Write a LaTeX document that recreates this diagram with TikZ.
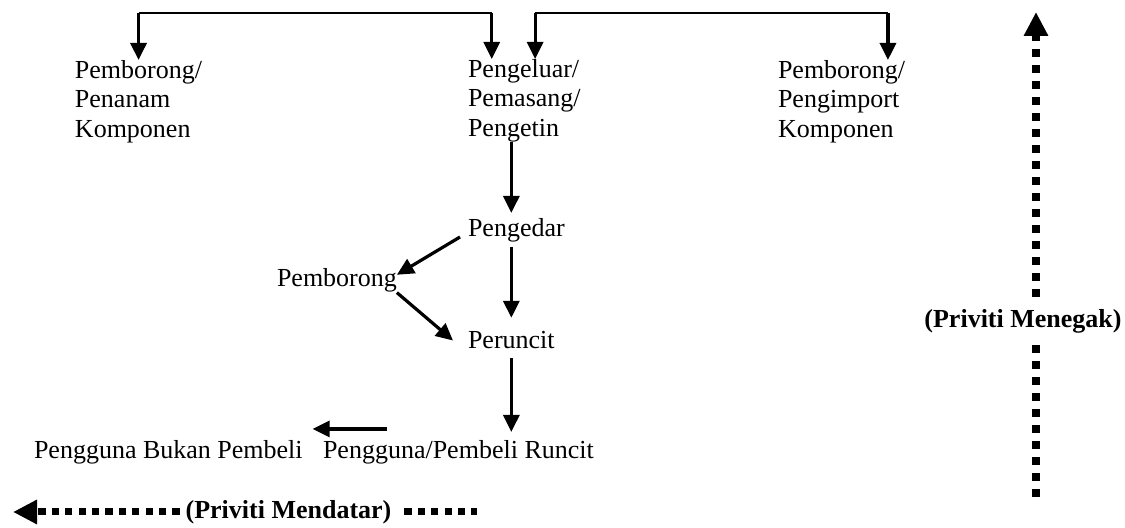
\documentclass[tikz,border=0pt]{standalone}
\usepackage{fontspec}
\setmainfont{Liberation Serif}
\usetikzlibrary{arrows.meta}

\begin{document}
\begin{tikzpicture}[x=0.5pt,
y=-0.5pt,
every node/.style={
align=left,
inner sep=0pt,
outer sep=0pt,
font=\fontsize{13}{14.75}\selectfont,
},
conn/.style={
line width=1.6pt,
-{Triangle[length=8.5pt,width=8pt]},
},
rail/.style={
line width=0.8pt,
},
priv/.style={
line width=3.5pt,
dash pattern=on 3.6pt off 3.1pt,
},
privtip/.style={
-{Triangle[length=12pt,width=11.5pt]},
},
lbl/.style={
font=\fontsize{13}{14.75}\selectfont\bfseries,
}]

\useasboundingbox (0,0) rectangle (1125,528);

%top row
\node[anchor=north west] (penanam) at (75,60) {Pemborong/\\Penanam\\Komponen};
\node[anchor=north west] (pengeluar) at (468,59) {Pengeluar/\\Pemasang/\\Pengetin};
\node[anchor=north west] (pengimport) at (778,60) {Pemborong/\\Pengimport\\Komponen};

%middle column
\node[anchor=base west] (pengedar) at (468,237) {Pengedar};
\node[anchor=base west] (pemborong) at (277,287) {Pemborong};
\node[anchor=base west] (peruncit) at (468,349) {Peruncit};
\node[anchor=base west] (bukan) at (34,459) {Pengguna Bukan Pembeli};
\node[anchor=base west] (runcit) at (323,459) {Pengguna/Pembeli Runcit};

%priviti labels
\node[lbl,inner ysep=6pt] (menegak) at (1023,321) {(Priviti Menegak)};
\node[lbl,inner xsep=3pt] (mendatar) at (288.5,512) {(Priviti Mendatar)};

%top rails
\coordinate (rail) at (0,13);
\coordinate (inA) at ([xshift=-16.3pt]pengeluar.north);
\coordinate (inB) at ([xshift=5.4pt]pengeluar.north);
\coordinate (inC) at ([xshift=23.2pt]pengimport.north);
\draw[rail] (penanam.north |- rail) -- (inA |- rail);
\draw[rail] (inB |- rail) -- (inC |- rail);
\draw[conn] (penanam.north |- rail) -- (penanam.north);
\draw[conn] (inA |- rail) -- (inA);
\draw[conn] (inB |- rail) -- (inB);
\draw[conn] (inC |- rail) -- (inC);

%supply chain
\draw[conn,shorten >=3pt] (pengeluar.south -| peruncit) -- (pengedar.north -| peruncit);
\draw[conn,shorten <=2pt,shorten >=7pt] (pengedar.south -| peruncit) -- (peruncit.north);
\draw[conn,shorten <=4.5pt,shorten >=4.5pt] (peruncit.south) -- (peruncit.south |- runcit.north);
\draw[conn] ([xshift=-4pt]pengedar.base west) -- ([yshift=3pt]pemborong.east);
\draw[conn] (pemborong.south east) -- ([xshift=-7.5pt]peruncit.west);
\draw[conn] ([shift={(32pt,6pt)}]runcit.north west) -- ([shift={(5pt,6pt)}]bukan.north east);

%dotted priviti arrows
\coordinate (vtop) at (1036,12);
\coordinate (vbot) at (1036,497);
\draw[priv,line width=4pt,dash pattern=on 4pt off 4pt] (vbot) -- (vbot |- menegak.south);
\draw[priv,line width=4pt,dash pattern=on 4pt off 4pt,privtip] (vtop |- menegak.north) -- (vtop);
\coordinate (htip) at (13,512);
\coordinate (hend) at (477,512);
\draw[priv,privtip] (mendatar.west) -- (htip);
\draw[priv,shorten <=3.5pt] (mendatar.east) -- (hend);
\end{tikzpicture}
\end{document}
